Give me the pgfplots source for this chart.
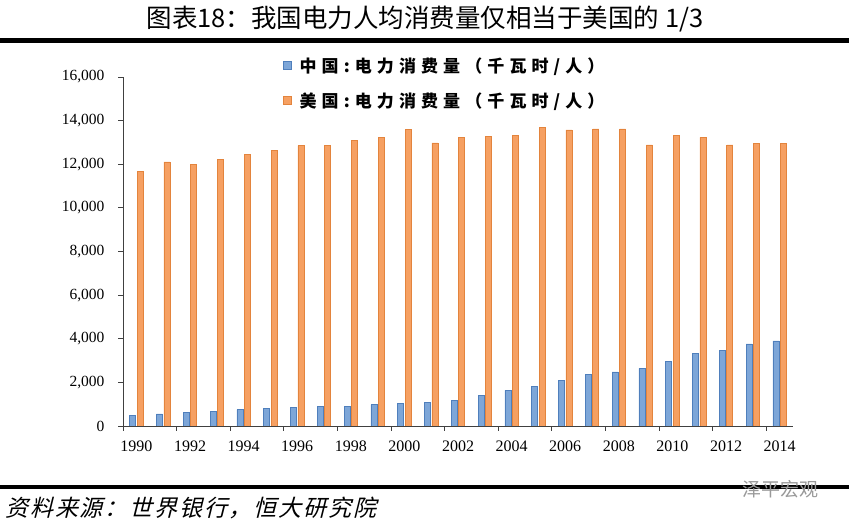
\documentclass[border=0pt]{standalone}
\usepackage{pgfplots}
\pgfplotsset{compat=1.18}
\usepackage{pgfplotstable}
\usepackage{fontspec}
\setmainfont{Liberation Serif}
\newfontfamily\cjk{Noto Sans CJK SC}
\newfontfamily\cjkleg[LetterSpace=30]{Noto Sans CJK SC}
\newfontfamily\cjkfoot[LetterSpace=8]{Noto Sans CJK SC}
\definecolor{cnfill}{HTML}{7DA6D8}
\definecolor{cndraw}{HTML}{4F7FBC}
\definecolor{usfill}{HTML}{F6A062}
\definecolor{usdraw}{HTML}{E3843D}
\definecolor{axgray}{HTML}{404040}

\pgfplotstableread{
year cn us
1990 500 11660
1991 550 12110
1992 625 12010
1993 685 12220
1994 745 12450
1995 790 12620
1996 840 12850
1997 915 12850
1998 900 13100
1999 975 13230
2000 1040 13610
2001 1085 12980
2002 1190 13230
2003 1400 13290
2004 1630 13330
2005 1800 13680
2006 2090 13570
2007 2360 13620
2008 2480 13620
2009 2640 12890
2010 2970 13330
2011 3320 13230
2012 3475 12890
2013 3760 12950
2014 3900 12950
}\datatable

\begin{document}
\begin{tikzpicture}
\useasboundingbox (0,0) rectangle (849pt,526pt);
% title
\node[font={\cjk\fontsize{25.5}{30}\selectfont}, anchor=center] at (425pt,507pt) {图表18：我国电力人均消费量仅相当于美国的 1/3};
\fill[black] (0pt,483pt) rectangle (849pt,488pt);
\fill[black] (0pt,37pt) rectangle (849pt,41pt);
\node[font={\cjkfoot\fontsize{23}{27}\selectfont}, anchor=west, xslant=0.25] at (4pt,18pt) {资料来源：世界银行，恒大研究院};
\node[font={\cjk\fontsize{19}{22}\selectfont}, text=black!40, anchor=center] at (780pt,37pt) {泽平宏观};

\begin{axis}[
  at={(123pt,100pt)}, anchor=south west,
  scale only axis, width=670pt, height=349pt,
  ybar, bar width=6pt, ybar=1.5pt,
  xmin=1989.5, xmax=2014.5,
  ymin=0, ymax=16000,
  scaled y ticks=false,
  axis x line*=bottom, axis y line*=left,
  axis line style={axgray, line width=0.8pt, -},
  tick align=outside, major tick length=5pt,
  tick style={axgray, line width=0.8pt},
  xtick={1989.5,1991.5,1993.5,1995.5,1997.5,1999.5,2001.5,2003.5,2005.5,2007.5,2009.5,2011.5,2013.5},
  xticklabels={1990,1992,1994,1996,1998,2000,2002,2004,2006,2008,2010,2012,2014},
  xticklabel style={xshift=13.4pt, yshift=-6pt, font=\fontsize{16}{19}\selectfont},
  ytick={0,2000,4000,6000,8000,10000,12000,14000,16000},
  yticklabel style={xshift=-10pt, font=\fontsize{15.5}{18}\selectfont},
  /pgf/number format/.cd, fixed, 1000 sep={,}, assume math mode=true,
  /pgfplots/.cd,
  legend style={at={(0.234,1.068)}, anchor=north west, draw=none, fill=none,
    font={\cjkleg\bfseries\fontsize{17}{20}\selectfont}, row sep=15pt,
    /tikz/every odd column/.append style={column sep=6pt}},
  legend cell align=left,
  legend image code/.code={\fill[#1] (0pt,-4pt) rectangle (8pt,4pt);},
]
\addplot[fill=cnfill, draw=cndraw, line width=0.6pt] table[x=year,y=cn] {\datatable};
\addlegendentry{中国:电力消费量（千瓦时/人）}
\addplot[fill=usfill, draw=usdraw, line width=0.6pt] table[x=year,y=us] {\datatable};
\addlegendentry{美国:电力消费量（千瓦时/人）}
\end{axis}
\end{tikzpicture}
\end{document}
